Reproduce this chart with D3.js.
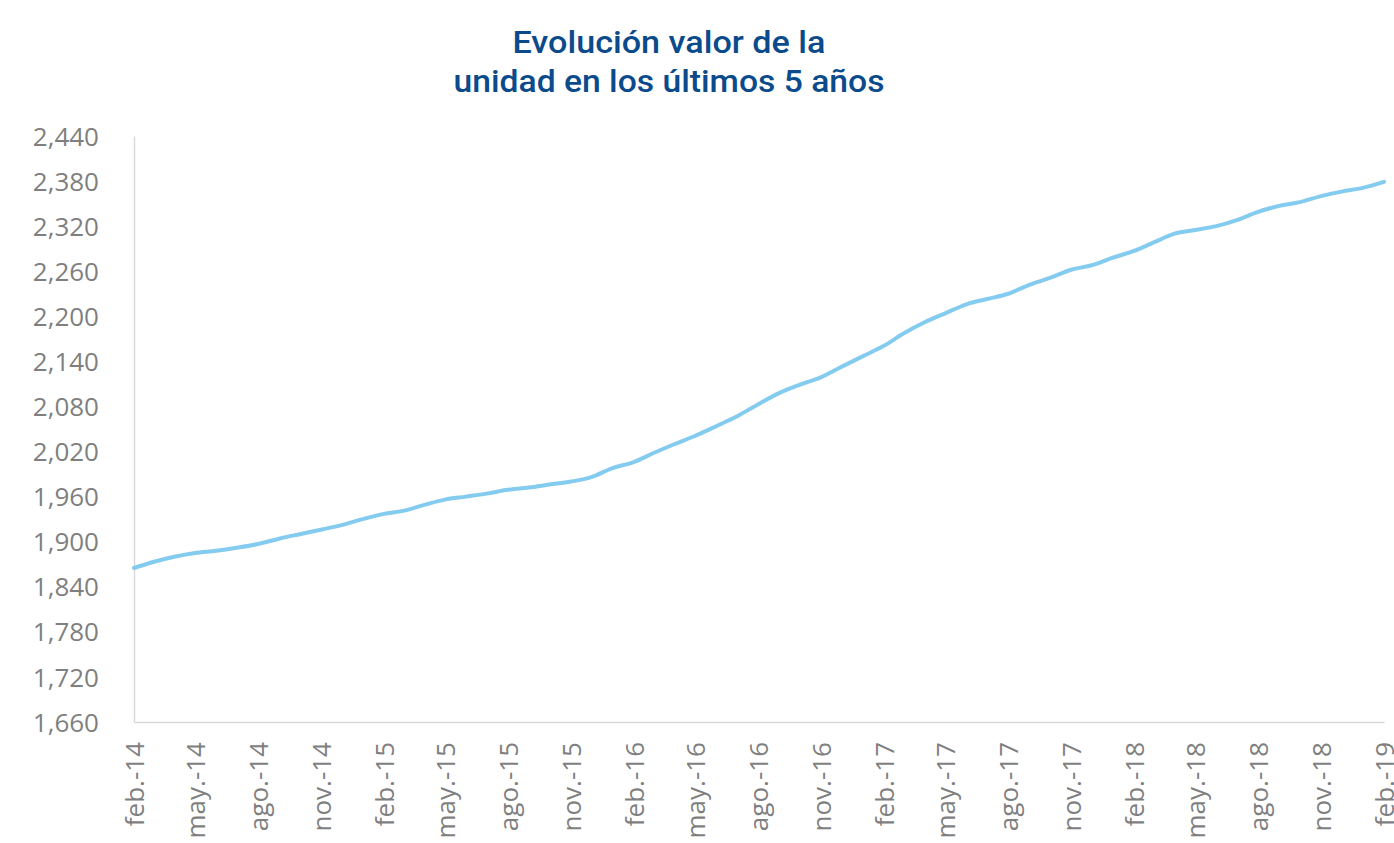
<!DOCTYPE html>
<html>
<head>
<meta charset="utf-8">
<script src="https://cdn.jsdelivr.net/npm/d3@7/dist/d3.min.js"></script>
<style>
  html, body { margin: 0; padding: 0; background: #ffffff; }
  svg { display: block; }
</style>
</head>
<body>
<svg id="chart" width="1394" height="843"></svg>
<script>
// ---- Data ----
const titleLines = ["Evolución valor de la", "unidad en los últimos 5 años"];

// monthly dates feb-2014 .. feb-2019 (61 points), as "YYYY-MM"
const months = [
  "2014-02","2014-03","2014-04","2014-05","2014-06","2014-07","2014-08","2014-09","2014-10","2014-11","2014-12",
  "2015-01","2015-02","2015-03","2015-04","2015-05","2015-06","2015-07","2015-08","2015-09","2015-10","2015-11","2015-12",
  "2016-01","2016-02","2016-03","2016-04","2016-05","2016-06","2016-07","2016-08","2016-09","2016-10","2016-11","2016-12",
  "2017-01","2017-02","2017-03","2017-04","2017-05","2017-06","2017-07","2017-08","2017-09","2017-10","2017-11","2017-12",
  "2018-01","2018-02","2018-03","2018-04","2018-05","2018-06","2018-07","2018-08","2018-09","2018-10","2018-11","2018-12",
  "2019-01","2019-02"
];
const unitValues = [
  1865,1873,1880,1885,1888,1892,1897,1904,1910,1916,1922,
  1930,1937,1941,1949,1956,1960,1964,1969,1972,1976,1980,1986,
  1998,2006,2018,2030,2041,2054,2067,2083,2098,2109,2119,2133,
  2147,2161,2177,2192,2204,2216,2223,2230,2242,2251,2262,2268,
  2278,2287,2298,2310,2315,2320,2328,2339,2347,2352,2360,2366,
  2371,2379
];
const yTicks = [1660,1720,1780,1840,1900,1960,2020,2080,2140,2200,2260,2320,2380,2440];
const xTickMonths = ["2014-02","2014-05","2014-08","2014-11","2015-02","2015-05","2015-08","2015-11",
  "2016-02","2016-05","2016-08","2016-11","2017-02","2017-05","2017-08","2017-11",
  "2018-02","2018-05","2018-08","2018-11","2019-02"];
const monthNames = ["ene.","feb.","mar.","abr.","may.","jun.","jul.","ago.","sep.","oct.","nov.","dic."];

// ---- Layout ----
const W = 1394, H = 843;
const margin = { left: 134, right: 10, top: 136, bottom: 121 };
const parse = d3.timeParse("%Y-%m");
const data = months.map((m, i) => ({ date: parse(m), value: unitValues[i] }));

const svg = d3.select("#chart");

const x = d3.scaleTime()
  .domain([parse(months[0]), parse(months[months.length - 1])])
  .range([margin.left, W - margin.right]);
const y = d3.scaleLinear()
  .domain([1660, 2440])
  .range([H - margin.bottom, margin.top]);

// Title
const title = svg.append("g").attr("class", "title");
const titleW = [313, 431];
titleLines.forEach((t, i) => {
  title.append("text")
    .attr("x", 669)
    .attr("y", 53 + i * 39)
    .attr("text-anchor", "middle")
    .attr("font-family", "Roboto, 'Noto Sans', sans-serif")
    .attr("font-weight", 500)
    .attr("font-size", 31)
    .attr("fill", "#0b4a8b")
    .attr("textLength", titleW[i])
    .attr("lengthAdjust", "spacingAndGlyphs")
    .text(t);
});

// Y axis
const yAxis = d3.axisLeft(y)
  .tickValues(yTicks)
  .tickSize(0)
  .tickPadding(35)
  .tickFormat(d3.format(","));
const gy = svg.append("g")
  .attr("transform", `translate(${margin.left},0)`)
  .call(yAxis);
gy.select(".domain").attr("stroke", "#d9d9d9").attr("stroke-width", 1.5);
gy.selectAll("text")
  .attr("font-family", "'Open Sans', sans-serif")
  .attr("font-size", 26)
  .attr("fill", "#7f7f7f")
  .attr("dy", "0.35em");

// X axis
const xAxis = d3.axisBottom(x)
  .tickValues(xTickMonths.map(parse))
  .tickSize(0)
  .tickFormat(d => monthNames[d.getMonth()] + "-" + d3.timeFormat("%y")(d));
const gx = svg.append("g")
  .attr("transform", `translate(0,${H - margin.bottom})`)
  .call(xAxis);
gx.select(".domain").attr("stroke", "#d9d9d9").attr("stroke-width", 1.5);
gx.selectAll("text")
  .attr("font-family", "'Open Sans', sans-serif")
  .attr("font-size", 26)
  .attr("fill", "#7f7f7f")
  .attr("transform", "rotate(-90)")
  .attr("text-anchor", "end")
  .attr("x", -20)
  .attr("y", 0)
  .attr("dy", "0.36em");

// Line
const line = d3.line()
  .x(d => x(d.date))
  .y(d => y(d.value))
  .curve(d3.curveMonotoneX);
svg.append("path")
  .datum(data)
  .attr("fill", "none")
  .attr("stroke", "#84cbf0")
  .attr("stroke-width", 4)
  .attr("stroke-linejoin", "round")
  .attr("stroke-linecap", "round")
  .attr("d", line);
</script>
</body>
</html>
